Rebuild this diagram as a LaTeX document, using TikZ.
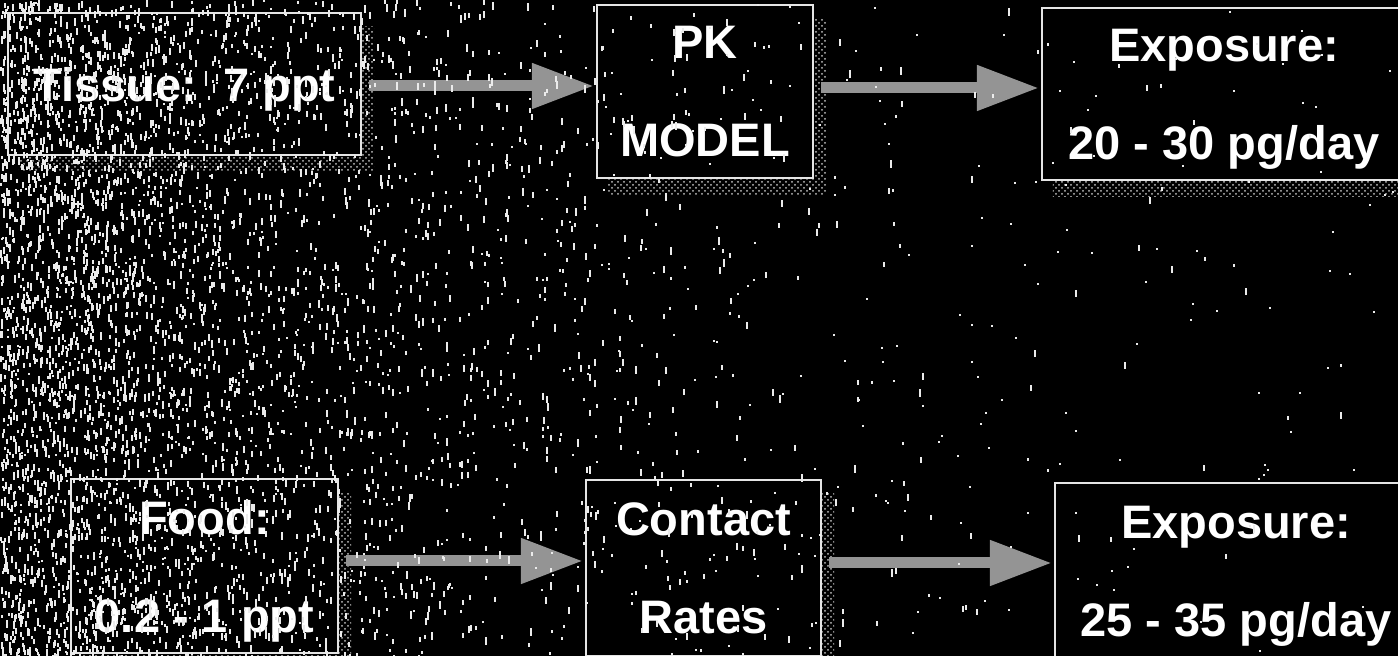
\documentclass[tikz,border=0pt]{standalone}
\usepackage{fontspec}
\setmainfont{Liberation Sans}
\usetikzlibrary{arrows.meta,patterns,backgrounds}

\tikzset{
  box/.style={rectangle, draw=white!90!black, line width=1.1pt, fill=black,
    inner sep=0pt, text=white, align=center,
    font=\fontsize{23.5}{49}\selectfont\bfseries,
    text depth=0pt},
  flow/.style={draw=white!58!black, line width=5.5pt,
    -{Triangle[length=31pt,width=21.5pt]}, shorten <=3.5pt, shorten >=1pt},
  boxshadow/.style={pattern=crosshatch dots, pattern color=white!75!black},
  speck/.style={fill=white!92!black}
}

% shadow offset below and to the right of a box
\newcommand{\boxshade}[1]{%
  \fill[boxshadow] ([xshift=6pt,yshift=-7.5pt]#1.south west)
    rectangle ([xshift=6pt,yshift=-7.5pt]#1.north east);}

\begin{document}
\begin{tikzpicture}[x=0.5pt,y=-0.5pt]
  \useasboundingbox (0,0) rectangle (1398,656);
  \begin{scope}[on background layer]
    \fill[black] (0,0) rectangle (1398,656);
  \end{scope}

  % boxes
  \node[box, minimum width=176.5pt, minimum height=71pt]  (tissue)  at (184.5,84)  {Tissue:\ \ 7 ppt};
  \node[box, minimum width=108pt,   minimum height=86.5pt] (pk)     at (705,91.5)  {PK\\MODEL};
  \node[box, minimum width=182pt,   minimum height=86pt]  (expoA)   at (1224,94)   {Exposure:\\20 - 30 pg/day};
  \node[box, minimum width=133.5pt, minimum height=87pt]  (food)    at (204.5,566) {Food:\\0.2 - 1 ppt};
  \node[box, minimum width=117.5pt, minimum height=88pt]  (contact) at (703.5,568) {Contact\\Rates};
  \node[box, minimum width=181pt,   minimum height=88.5pt] (expoB)  at (1236,571.5) {Exposure:\\25 - 35 pg/day};

  % stippled shadows behind the boxes
  \begin{scope}[on background layer]
    \boxshade{tissue}
    \boxshade{pk}
    \boxshade{expoA}
    \boxshade{food}
    \boxshade{contact}
    \boxshade{expoB}
  \end{scope}

  % connectors
  \draw[flow] ([yshift=-1pt]tissue.east) -- ([yshift=-1pt]tissue.east -| pk.west);
  \draw[flow] ([yshift=1.75pt]pk.east) -- ([yshift=1.75pt]pk.east -| expoA.west);
  \draw[flow] ([yshift=2.5pt]food.east) -- ([yshift=2.5pt]food.east -| contact.west);
  \draw[flow] ([yshift=2.5pt]contact.east) -- ([yshift=2.5pt]contact.east -| expoB.west);

  % grain, heaviest along the left side
  \pgfmathsetseed{4242}
  \foreach \i in {1,...,4500}{
    \pgfmathsetmacro{\nx}{-220*ln(rnd+0.00001)}
    \pgfmathsetmacro{\ny}{656*rnd}
    \pgfmathsetmacro{\nh}{2+6*rnd}
    \ifdim\nx pt<1398pt \fill[speck] (\nx,\ny) rectangle ++(2,\nh); \fi
  }
  \foreach \i in {1,...,300}{
    \pgfmathsetmacro{\nx}{1398*rnd}
    \pgfmathsetmacro{\ny}{656*rnd}
    \fill[speck] (\nx,\ny) rectangle ++(2,2);
  }
\end{tikzpicture}
\end{document}
